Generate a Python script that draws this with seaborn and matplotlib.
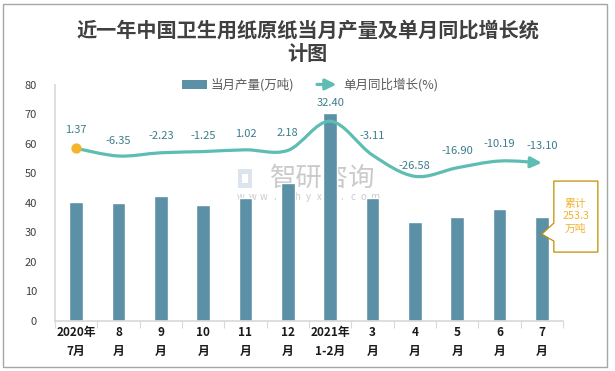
import numpy as np
import pandas as pd
import matplotlib
matplotlib.use("Agg")
import matplotlib.pyplot as plt
import seaborn as sns
from matplotlib.path import Path
from matplotlib.patches import FancyArrowPatch, Patch, Rectangle, Polygon
from matplotlib.legend_handler import HandlerBase

# ---------------- data ----------------
months = ["2020年\n7月", "8\n月", "9\n月", "10\n月", "11\n月", "12\n月",
          "2021年\n1-2月", "3\n月", "4\n月", "5\n月", "6\n月", "7\n月"]
output = [40.3, 40.0, 42.3, 39.3, 41.6, 46.7, 70.6, 41.6, 33.4, 35.2, 37.9, 35.3]
growth = [1.37, -6.35, -2.23, -1.25, 1.02, 2.18, 32.40, -3.11, -26.58, -16.90, -10.19, -13.10]
# height at which the growth curve is drawn (left-axis units)
growth_level = [58.5, 55.9, 57.0, 57.4, 58.0, 57.8, 67.7, 56.2, 49.0, 51.9, 54.2, 53.6]
cumulative_text = "累计\n253.3\n万吨"
title_lines = ["近一年中国卫生用纸原纸当月产量及单月同比增长统", "计图"]
legend_labels = ["当月产量(万吨)", "单月同比增长(%)"]
watermark_name = "智研咨询"
watermark_url = "www.chyxx.com"

# ---------------- style ----------------
BAR = "#5b90a6"
LINE = "#5ebdb3"
LBL = "#3a7d8c"
TXT = "#404040"
DOT = "#f4b52b"
W, H = 615, 371

sns.set_theme(style="white")
plt.rcParams["font.family"] = ["Noto Sans CJK SC", "DejaVu Sans"]
plt.rcParams["axes.unicode_minus"] = False

fig = plt.figure(figsize=(W / 100, H / 100), dpi=100)
fig.patch.set_facecolor("white")
ax = fig.add_axes([55 / W, 1 - 320.7 / H, (563 - 55) / W, (320.7 - 85) / H])
ax.patch.set_facecolor("none")

df = pd.DataFrame({"month": months, "output": output})
sns.barplot(data=df, x="month", y="output", color=BAR, width=0.33,
            saturation=1, ax=ax, zorder=2)

ax.set_xlim(-0.5, len(months) - 0.5)
ax.set_ylim(0, 80)
ax.set_yticks(range(0, 81, 10))
ax.set_xlabel("")
ax.set_ylabel("")
for s in ["top", "right"]:
    ax.spines[s].set_visible(False)
ax.spines["left"].set_color("#d9d9d9")
ax.spines["bottom"].set_color("#d9d9d9")
ax.tick_params(axis="y", length=0, pad=13, labelsize=8, labelcolor=TXT)
ax.tick_params(axis="x", which="major", length=0, pad=4, labelsize=8.5, labelcolor="#1a1a1a")
ax.set_xticks(np.arange(-0.5, len(months), 1), minor=True)
ax.tick_params(axis="x", which="minor", bottom=True, length=5, width=0.8, color="#d9d9d9")
for lbl in ax.get_xticklabels():
    lbl.set_fontweight("bold")
    lbl.set_linespacing(1.55)

# ---------------- smooth growth curve (Catmull-Rom as Bezier) ----------------
xs = np.arange(len(growth_level), dtype=float)
pts = np.column_stack([xs, np.array(growth_level, dtype=float)])
verts = [pts[0]]
codes = [Path.MOVETO]
n = len(pts)
for i in range(n - 1):
    p0 = pts[i - 1] if i > 0 else pts[i]
    p1 = pts[i]
    p2 = pts[i + 1]
    p3 = pts[i + 2] if i + 2 < n else pts[i + 1]
    c1 = p1 + (p2 - p0) / 6.0
    c2 = p2 - (p3 - p1) / 6.0
    verts += [c1, c2, p2]
    codes += [Path.CURVE4] * 3
curve = FancyArrowPatch(path=Path(np.array(verts), codes),
                        arrowstyle="-|>,head_length=0.65,head_width=0.32",
                        mutation_scale=10, lw=2.3, color=LINE, zorder=4,
                        capstyle="round", joinstyle="round")
ax.add_patch(curve)
ax.scatter([0], [growth_level[0]], s=55, color=DOT, zorder=5, linewidths=0)

# data labels
label_off_px = [18, 15, 17, 16, 16, 17, 18, 19, 10, 17, 17, 17]
for i, g in enumerate(growth):
    ax.annotate(f"{g:.2f}", (i, growth_level[i]),
                xytext=(0, label_off_px[i] * 0.72), textcoords="offset points",
                ha="center", va="center", fontsize=8, color=LBL, zorder=6)

# ---------------- callout ----------------
tip = fig.transFigure.inverted().transform(ax.transData.transform((len(months) - 1, 29.4)))
def px(dx, dy):
    return (tip[0] + dx / W, tip[1] + dy / H)
poly = Polygon([px(12, 53), px(56, 53), px(56, -18), px(12, -18), px(12, -7),
                px(0, 0), px(12, 11)], closed=True, transform=fig.transFigure,
               facecolor="white", edgecolor="#bf9000", lw=0.9, zorder=10)
fig.add_artist(poly)
cx, cy = px(34, 18)
fig.text(cx, cy, cumulative_text, ha="center", va="center", fontsize=7.8,
         color="#f2b233", linespacing=1.3, zorder=11)

# ---------------- title ----------------
fig.text(0.5, 1 - 30 / H, title_lines[0], ha="center", va="center",
         fontsize=14.5, fontweight="bold", color=TXT)
fig.text(0.5, 1 - 53 / H, title_lines[1], ha="center", va="center",
         fontsize=14.5, fontweight="bold", color=TXT)

# ---------------- legend ----------------
class ArrowHandler(HandlerBase):
    def create_artists(self, legend, orig_handle, xdescent, ydescent, width,
                       height, fontsize, trans):
        y = height / 2 - ydescent
        a = FancyArrowPatch((-xdescent, y), (-xdescent + width, y),
                            arrowstyle="-|>,head_length=0.65,head_width=0.32",
                            mutation_scale=10, lw=2.3, color=LINE,
                            transform=trans)
        return [a]

bar_handle = Patch(facecolor=BAR, edgecolor="none")
arrow_handle = Patch(facecolor="none", edgecolor="none")
fig.legend([bar_handle, arrow_handle], legend_labels,
           handler_map={arrow_handle: ArrowHandler()},
           loc="center", bbox_to_anchor=(310 / W, 1 - 85 / H), ncol=2,
           frameon=False, fontsize=9, handlelength=2.0, handleheight=0.7,
           handletextpad=0.3, columnspacing=1.6, labelcolor="#595959")

# ---------------- watermark ----------------
fig.text(323 / W, 1 - 178 / H, watermark_name, ha="center", va="center",
         fontsize=19, color="#a0a0a0", alpha=0.55, zorder=-1)
# logo approximation
fig.add_artist(Rectangle((238 / W, 1 - 188 / H), 14 / W, 19 / H,
                         transform=fig.transFigure, facecolor="#c5d3e3",
                         edgecolor="none", alpha=0.6, zorder=-1))
fig.add_artist(Rectangle((242 / W, 1 - 183 / H), 6 / W, 9 / H,
                         transform=fig.transFigure, facecolor="white",
                         edgecolor="none", zorder=-1))
url_x = np.linspace(241, 375, len(watermark_url))
for xx, ch in zip(url_x, watermark_url):
    fig.text(xx / W, 1 - 197 / H, ch, ha="center", va="center",
             fontsize=7, color="#a0a0a0", alpha=0.55, zorder=-1)

# ---------------- outer border ----------------
fig.add_artist(Rectangle((3 / W, 4 / H), (607 - 3) / W, (367 - 4) / H,
                         transform=fig.transFigure, fill=False,
                         edgecolor="#a6a6a6", lw=1.0, zorder=20))

fig.savefig("out.png", dpi=100, facecolor="white")
